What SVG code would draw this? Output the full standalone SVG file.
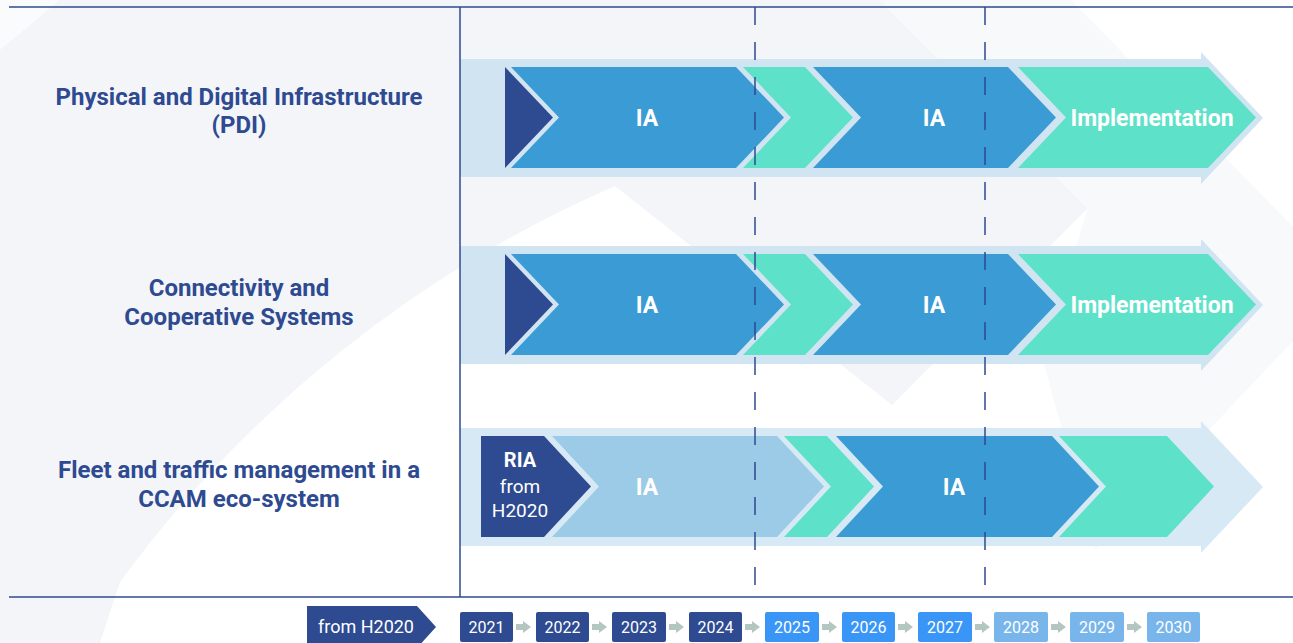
<svg xmlns="http://www.w3.org/2000/svg" width="1293" height="643" viewBox="0 0 1293 643">
<style>
.lbl{font-family:Roboto,"Liberation Sans",sans-serif;font-weight:700;font-size:24px;fill:#2e4a91;text-anchor:middle}
.ct{font-family:Roboto,"Liberation Sans",sans-serif;font-weight:700;font-size:23px;fill:#ffffff;text-anchor:middle}
.yt{font-family:Roboto,"Liberation Sans",sans-serif;font-size:16px;fill:#ffffff;text-anchor:middle}
.band{fill:#d1e4f1}
.dark{fill:#2e4a91}
.blue{fill:#3a9bd5}
.teal{fill:#5ee1c9}
.light{fill:#9bcbe7}
.line{stroke:#2e4a91;stroke-width:1.5;fill:none}
.dash{stroke:#2e4a91;stroke-width:1.5;fill:none;stroke-dasharray:18 17}
.arr{fill:#b3c6c2}
</style>
<g id="background">
<rect x="0" y="0" width="1293" height="643" fill="#f4f5f9"/>
<path d="M100 643L120 582A1215 1215 0 0 1 615 186L892 405L1088 208L880 0H1293V643Z" fill="#ffffff"/>
<polygon points="1071,0 1348,283 1095,550 1042,357 1088,208 880,0" fill="#f8f9fb"/>
<polygon points="0,0 60,0 0,50" fill="#fafbfc"/>
</g>
<g id="frame">
<line class="line" x1="9" y1="7" x2="1293" y2="7"/>
<line class="line" x1="9" y1="597" x2="1293" y2="597"/>
</g>
<g id="row1">
<polygon class="band" points="460,59 1201,59 1201,52 1263,118 1201,184 1201,177 460,177"/>
<polygon class="dark" points="505,67 553,117.5 505,168"/>
<polygon class="blue" points="511,67 736,67 784,117.5 736,168 511,168 559,117.5"/>
<polygon class="teal" points="743,67 805,67 853,117.5 805,168 743,168 791,117.5"/>
<polygon class="blue" points="813,67 1008,67 1056,117.5 1008,168 813,168 861,117.5"/>
<polygon class="teal" points="1018,67 1208,67 1256,117.5 1208,168 1018,168 1066,117.5"/>
<text class="ct" x="647" y="126">IA</text>
<text class="ct" x="934" y="126">IA</text>
<text class="ct" x="1152" y="126">Implementation</text>
<text class="lbl" x="239" y="105">Physical and Digital Infrastructure</text>
<text class="lbl" x="239" y="133">(PDI)</text>
</g>
<g id="row2">
<polygon class="band" points="460,246 1201,246 1201,239 1263,305 1201,371 1201,364 460,364"/>
<polygon class="dark" points="505,254 553,304.5 505,355"/>
<polygon class="blue" points="511,254 736,254 784,304.5 736,355 511,355 559,304.5"/>
<polygon class="teal" points="743,254 805,254 853,304.5 805,355 743,355 791,304.5"/>
<polygon class="blue" points="813,254 1008,254 1056,304.5 1008,355 813,355 861,304.5"/>
<polygon class="teal" points="1018,254 1208,254 1256,304.5 1208,355 1018,355 1066,304.5"/>
<text class="ct" x="647" y="313">IA</text>
<text class="ct" x="934" y="313">IA</text>
<text class="ct" x="1152" y="313">Implementation</text>
<text class="lbl" x="239" y="296">Connectivity and</text>
<text class="lbl" x="239" y="325">Cooperative Systems</text>
</g>
<g id="row3">
<polygon class="band" points="460,428 1201,428 1201,421 1263,487 1201,553 1201,546 460,546" style="fill:#d6e9f5"/>
<polygon class="dark" points="481,436 544,436 591,486.5 544,537 481,537"/>
<polygon class="light" points="552,436 777,436 824,486.5 777,537 552,537 599,486.5"/>
<polygon class="teal" points="784,436 827,436 874,486.5 827,537 784,537 831,486.5"/>
<polygon class="blue" points="836,436 1052,436 1099,486.5 1052,537 836,537 883,486.5"/>
<polygon class="teal" points="1059,436 1167,436 1214,486.5 1167,537 1059,537 1106,486.5"/>
<text class="ct" x="520" y="467" style="font-size:20px">RIA</text>
<text class="yt" x="520" y="493" style="font-size:19px">from</text>
<text class="yt" x="520" y="517" style="font-size:19px">H2020</text>
<text class="ct" x="647" y="495">IA</text>
<text class="ct" x="954" y="495">IA</text>
<text class="lbl" x="239" y="478">Fleet and traffic management in a</text>
<text class="lbl" x="239" y="507">CCAM eco-system</text>
</g>
<g id="connectors">
<line class="line" x1="460" y1="7" x2="460" y2="597"/>
<line class="dash" x1="755" y1="7" x2="755" y2="585"/>
<line class="dash" x1="985" y1="7" x2="985" y2="585"/>
</g>
<g id="timeline">
<polygon class="dark" points="307,606 417,606 436,627 417,648 307,648"/>
<text class="yt" x="366" y="633" style="font-size:18px">from H2020</text>
<g id="y2021"><rect x="460" y="612" width="53" height="30" rx="2" fill="#2e4a91"/><text class="yt" x="486.5" y="633">2021</text></g>
<g id="y2022"><rect x="536" y="612" width="53" height="30" rx="2" fill="#2e4a91"/><text class="yt" x="562.5" y="633">2022</text></g>
<g id="y2023"><rect x="612" y="612" width="54" height="30" rx="2" fill="#2e4a91"/><text class="yt" x="639" y="633">2023</text></g>
<g id="y2024"><rect x="689" y="612" width="53" height="30" rx="2" fill="#2e4a91"/><text class="yt" x="715.5" y="633">2024</text></g>
<g id="y2025"><rect x="765" y="612" width="54" height="30" rx="2" fill="#3996f6"/><text class="yt" x="792" y="633">2025</text></g>
<g id="y2026"><rect x="842" y="612" width="53" height="30" rx="2" fill="#3996f6"/><text class="yt" x="868.5" y="633">2026</text></g>
<g id="y2027"><rect x="918" y="612" width="54" height="30" rx="2" fill="#3996f6"/><text class="yt" x="945" y="633">2027</text></g>
<g id="y2028"><rect x="994" y="612" width="54" height="30" rx="2" fill="#78b5ea"/><text class="yt" x="1021" y="633">2028</text></g>
<g id="y2029"><rect x="1070" y="612" width="54" height="30" rx="2" fill="#78b5ea"/><text class="yt" x="1097" y="633">2029</text></g>
<g id="y2030"><rect x="1147" y="612" width="53" height="30" rx="2" fill="#78b5ea"/><text class="yt" x="1173.5" y="633">2030</text></g>
<g id="year-arrows" class="arr">
<path d="M516 624h7v-3l8 6-8 6v-3h-7z"/>
<path d="M592 624h7v-3l8 6-8 6v-3h-7z"/>
<path d="M669 624h7v-3l8 6-8 6v-3h-7z"/>
<path d="M745 624h7v-3l8 6-8 6v-3h-7z"/>
<path d="M822 624h7v-3l8 6-8 6v-3h-7z"/>
<path d="M898 624h7v-3l8 6-8 6v-3h-7z"/>
<path d="M975 624h7v-3l8 6-8 6v-3h-7z"/>
<path d="M1051 624h7v-3l8 6-8 6v-3h-7z"/>
<path d="M1127 624h7v-3l8 6-8 6v-3h-7z"/>
</g>
</g>
</svg>
